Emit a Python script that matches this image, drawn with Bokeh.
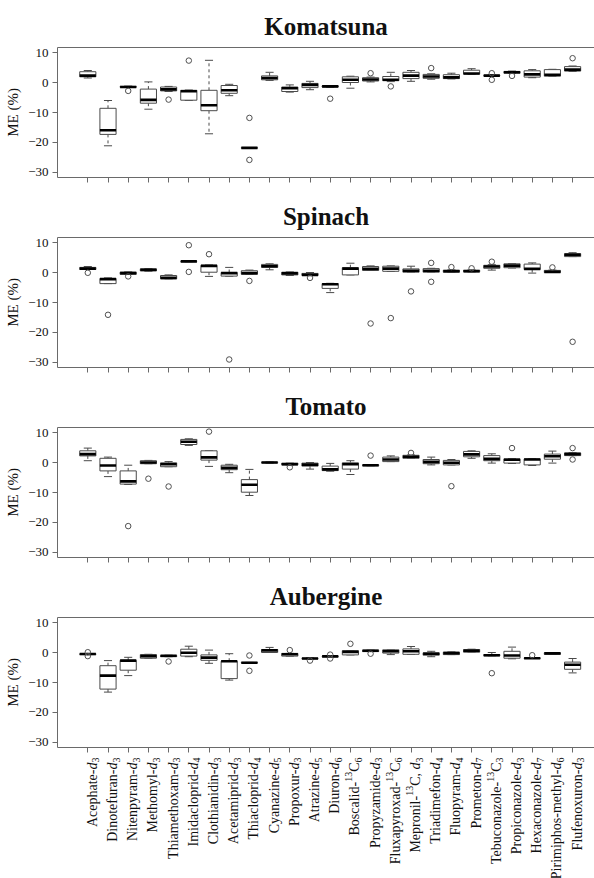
import math
from bokeh.plotting import figure
from bokeh.models import Range1d, FixedTicker, LinearAxis
from bokeh.layouts import column
from bokeh.core.properties import value
from bokeh.embed import file_html
from bokeh.resources import INLINE

# ---------------- data ----------------
panels = ["Komatsuna", "Spinach", "Tomato", "Aubergine"]

# x tick labels as (text, kind): n normal, i italic, b subscript, p superscript
x_labels = [
    [("Acephate-", "n"), ("d", "i"), ("3", "b")],
    [("Dinotefuran-", "n"), ("d", "i"), ("3", "b")],
    [("Nitenpyram-", "n"), ("d", "i"), ("3", "b")],
    [("Methomyl-", "n"), ("d", "i"), ("3", "b")],
    [("Thiamethoxam-", "n"), ("d", "i"), ("3", "b")],
    [("Imidacloprid-", "n"), ("d", "i"), ("4", "b")],
    [("Clothianidin-", "n"), ("d", "i"), ("3", "b")],
    [("Acetamiprid-", "n"), ("d", "i"), ("3", "b")],
    [("Thiacloprid-", "n"), ("d", "i"), ("4", "b")],
    [("Cyanazine-", "n"), ("d", "i"), ("5", "b")],
    [("Propoxur-", "n"), ("d", "i"), ("3", "b")],
    [("Atrazine-", "n"), ("d", "i"), ("5", "b")],
    [("Diuron-", "n"), ("d", "i"), ("6", "b")],
    [("Boscalid-", "n"), ("13", "p"), ("C", "n"), ("6", "b")],
    [("Propyzamide-", "n"), ("d", "i"), ("3", "b")],
    [("Fluxapyroxad-", "n"), ("13", "p"), ("C", "n"), ("6", "b")],
    [("Mepronil-", "n"), ("13", "p"), ("C, ", "n"), ("d", "i"), ("3", "b")],
    [("Triadimefon-", "n"), ("d", "i"), ("4", "b")],
    [("Fluopyram-", "n"), ("d", "i"), ("4", "b")],
    [("Prometon-", "n"), ("d", "i"), ("7", "b")],
    [("Tebuconazole-", "n"), ("13", "p"), ("C", "n"), ("3", "b")],
    [("Propiconazole-", "n"), ("d", "i"), ("3", "b")],
    [("Hexaconazole-", "n"), ("d", "i"), ("7", "b")],
    [("Pirimiphos-methyl-", "n"), ("d", "i"), ("6", "b")],
    [("Flufenoxuron-", "n"), ("d", "i"), ("3", "b")],
]

y_ticks = [-30, -20, -10, 0, 10]

kom_low = [1.5, -21.1, -1.6, -8.9, -3.0, -6.0, -17.1, -4.4, -21.9, 0.7, -3.2, -2.4, -1.6, -1.9, 0.2, 0.3, 0.4, 1.1, 1.2, 2.7, 2.1, 3.0, 1.6, 2.0, 3.7]
kom_q1 = [1.9, -17.3, -1.6, -6.9, -2.8, -5.9, -9.4, -3.6, -21.9, 0.9, -3.0, -1.7, -1.5, 0.0, 0.5, 0.6, 1.3, 1.4, 1.3, 2.8, 2.2, 3.1, 1.8, 2.1, 3.8]
kom_med = [2.3, -15.9, -1.5, -5.8, -2.3, -2.9, -7.6, -2.6, -21.8, 1.5, -1.9, -0.8, -1.3, 0.9, 1.0, 0.9, 2.3, 2.0, 1.7, 3.0, 2.3, 3.4, 2.7, 2.6, 4.3]
kom_q3 = [3.6, -8.6, -1.3, -2.2, -1.5, -2.6, -2.6, -1.0, -21.7, 2.2, -1.5, -0.3, -1.1, 1.9, 1.6, 2.0, 3.4, 2.7, 2.6, 4.1, 2.4, 3.7, 3.9, 4.3, 5.3]
kom_high = [4.0, -6.0, -1.2, 0.2, -1.3, -2.5, 7.4, -0.6, -21.7, 3.4, -0.8, 0.4, -1.0, 2.1, 1.8, 3.4, 4.0, 2.9, 3.1, 4.6, 2.5, 3.8, 4.3, 4.4, 5.5]
kom_out = [[], [], [-2.8], [], [-5.7], [7.3], [], [], [-11.8, -25.8], [], [], [], [-5.4], [], [3.1], [-1.3], [], [4.8], [], [], [3.1, 0.9], [2.2], [], [], [8.1]]

sp_low = [1.0, -3.7, -0.6, 0.4, -2.1, 3.6, -1.3, -1.2, -0.6, 0.9, -1.0, -1.0, -6.7, -0.8, 0.7, 0.4, 0.1, 0.1, 0.1, 0.2, 0.8, 1.5, -0.2, 0.0, 5.3]
sp_q1 = [1.0, -3.7, -0.6, 0.5, -2.1, 3.6, 0.1, -1.2, -0.6, 1.7, -0.8, -1.0, -5.3, -0.8, 0.7, 0.4, 0.1, 0.1, 0.1, 0.2, 1.4, 1.6, 1.0, 0.0, 5.3]
sp_med = [1.3, -2.2, -0.2, 0.9, -1.8, 3.7, 2.2, -0.2, -0.2, 2.1, -0.3, -0.8, -3.9, 1.3, 1.2, 1.3, 0.6, 0.6, 0.4, 0.4, 2.0, 2.3, 1.2, 0.2, 5.9]
sp_q3 = [1.7, -2.0, 0.1, 1.2, -1.0, 3.7, 2.4, 0.0, 0.6, 2.7, 0.1, -0.3, -3.7, 1.6, 2.0, 2.1, 1.2, 1.3, 0.8, 0.8, 2.4, 2.9, 2.8, 0.7, 6.3]
sp_high = [2.0, -1.8, 0.2, 1.3, -0.8, 3.8, 2.5, 1.7, 0.8, 2.9, 0.2, 0.0, -3.6, 3.1, 2.2, 2.2, 2.1, 1.4, 0.9, 0.9, 2.6, 3.0, 3.2, 0.8, 6.6]
sp_out = [[-0.1], [-14.1], [-1.3], [], [], [9.1, 0.2], [6.1], [-29.0], [-2.8], [], [], [-1.8], [], [], [-17.0], [-15.2], [-6.3], [3.2, -3.1], [1.8], [1.4], [3.6], [], [], [1.7], [-23.1]]

to_low = [0.6, -4.7, -7.3, -0.4, -1.4, 5.7, -1.3, -3.4, -11.0, -0.2, -0.8, -2.2, -2.9, -4.0, -1.1, 0.3, 1.4, -0.8, -0.8, 1.4, -0.2, -0.3, -1.0, -0.2, 2.3]
to_q1 = [2.2, -2.8, -7.2, -0.4, -1.4, 6.0, 0.8, -2.4, -9.9, -0.1, -0.8, -1.2, -2.7, -2.2, -1.1, 0.3, 1.4, -0.4, -0.8, 1.9, 0.6, -0.2, -0.8, 1.1, 2.3]
to_med = [2.8, -1.0, -6.3, 0.0, -0.6, 6.9, 1.7, -1.8, -7.4, 0.0, -0.6, -0.7, -2.3, -0.6, -0.9, 1.0, 1.9, 0.2, -0.1, 2.7, 1.2, 0.9, 1.0, 2.1, 2.8]
to_q3 = [3.9, 1.4, -2.8, 0.6, -0.1, 7.7, 3.9, -0.9, -5.7, 0.1, -0.2, -0.2, -1.2, -0.1, -0.8, 1.8, 2.4, 1.0, 0.7, 3.7, 2.3, 1.2, 1.2, 2.8, 3.2]
to_high = [4.8, 1.8, -0.9, 0.7, 0.3, 7.9, 3.9, -0.6, -2.3, 0.2, -0.2, 0.0, -0.3, 0.6, -0.7, 2.2, 2.5, 1.8, 1.0, 3.9, 2.9, 1.3, 1.3, 3.8, 3.3]
to_out = [[], [], [-21.2], [-5.4], [-8.0], [], [10.3], [], [], [], [-1.6], [], [], [], [2.3], [], [3.2], [], [-7.9], [], [], [4.8], [], [], [4.8, 1.0]]

au_low = [-0.7, -13.2, -7.7, -1.9, -1.4, -1.4, -3.6, -9.2, -3.5, 0.0, -1.2, -2.1, -1.4, -0.8, 0.3, -0.7, -0.6, -1.4, -0.7, 0.1, -1.1, -2.1, -2.0, -0.6, -6.8]
au_q1 = [-0.7, -12.2, -5.9, -1.9, -1.4, -1.2, -2.6, -8.7, -3.5, 0.0, -1.2, -2.1, -1.4, -0.8, 0.3, -0.2, -0.6, -0.9, -0.7, 0.1, -1.1, -1.9, -2.0, -0.6, -5.6]
au_med = [-0.5, -7.7, -2.7, -1.2, -1.1, -0.1, -1.7, -2.9, -3.4, 0.7, -0.6, -2.0, -1.3, 0.2, 0.6, 0.4, 0.4, -0.4, -0.2, 0.6, -0.9, -1.0, -1.9, -0.3, -4.1]
au_q3 = [-0.4, -4.4, -2.6, -0.7, -1.0, 1.1, -0.8, -2.9, -3.3, 1.0, -0.3, -1.9, -1.2, 0.6, 0.8, 0.9, 1.2, -0.1, 0.1, 1.0, -0.7, 0.4, -1.8, -0.1, -3.2]
au_high = [-0.4, -2.7, -1.6, -0.6, -0.9, 2.1, 0.8, -0.4, -3.3, 1.7, -0.3, -1.8, -1.2, 0.6, 0.8, 0.9, 2.0, 0.4, 0.2, 1.1, 0.0, 1.8, -1.8, 0.0, -2.0]
au_out = [[0.1, -1.2], [], [], [], [-3.0], [], [], [], [-1.0, -6.1], [], [0.8], [-2.7], [-0.7, -2.0], [2.9], [-0.4], [], [], [], [], [], [-6.9], [], [-0.9], [], []]

panel_data = [
    (kom_low, kom_q1, kom_med, kom_q3, kom_high, kom_out),
    (sp_low, sp_q1, sp_med, sp_q3, sp_high, sp_out),
    (to_low, to_q1, to_med, to_q3, to_high, to_out),
    (au_low, au_q1, au_med, au_q3, au_high, au_out),
]

# ---------------- style ----------------
FONT = "Liberation Serif"
FRAME = "#6a6a6a"
BOXC = "#4a4a4a"
TXT = "#111111"
LAB_SIZE = 14
SCRIPT_SIZE = 10
EM = {"0": .5, "1": .5, "2": .5, "3": .5, "4": .5, "5": .5, "6": .5, "7": .5,
      "8": .5, "9": .5, "C": .667, ",": .25, " ": .25, "d": .5}

FRAME_LEFT = 57
PX_PER_CAT = 20.2
PANEL_H = 190
TOP = 47
FRAME_H = 130
LAST_BOTTOM = 8
LABEL_H = 878 - 3 * PANEL_H - (TOP + FRAME_H + LAST_BOTTOM)

x_range = Range1d(-0.5, -0.5 + (594 - FRAME_LEFT) / PX_PER_CAT)
figs = []
n = len(x_labels)
xs = list(range(1, n + 1))

for k, name in enumerate(panels):
    last = (k == len(panels) - 1)
    bottom = LAST_BOTTOM if last else PANEL_H - TOP - FRAME_H
    h = TOP + FRAME_H + bottom
    p = figure(width=594, height=h, output_backend="svg", toolbar_location=None,
               x_range=x_range, y_range=Range1d(-31.67, 11.67),
               min_border_left=FRAME_LEFT, min_border_right=0,
               min_border_top=TOP, min_border_bottom=bottom,
               background_fill_color="white", border_fill_color="white")
    p.outline_line_color = None
    p.grid.visible = False

    p.title.text = name
    p.title.align = "center"
    p.title.text_font = FONT
    p.title.text_font_size = "25px"
    p.title.text_font_style = "bold"
    p.title.text_color = TXT
    p.title.standoff = 15

    # axes
    p.xaxis.ticker = FixedTicker(ticks=xs)
    p.xaxis.major_label_text_font_size = "1px"
    p.xaxis.major_label_text_alpha = 0
    p.xaxis.major_label_standoff = 0
    p.xaxis.major_tick_in = 0
    p.xaxis.major_tick_out = 5
    p.xaxis.minor_tick_line_color = None
    p.xaxis.axis_line_color = FRAME
    p.xaxis.major_tick_line_color = FRAME

    p.yaxis.ticker = FixedTicker(ticks=y_ticks)
    p.yaxis.major_label_text_font = FONT
    p.yaxis.major_label_text_font_size = "13px"
    p.yaxis.major_label_text_color = TXT
    p.yaxis.major_label_standoff = 4
    p.yaxis.major_tick_in = 0
    p.yaxis.major_tick_out = 5
    p.yaxis.minor_tick_line_color = None
    p.yaxis.axis_line_color = FRAME
    p.yaxis.major_tick_line_color = FRAME
    p.yaxis.axis_label = "ME (%)"
    p.yaxis.axis_label_text_font = FONT
    p.yaxis.axis_label_text_font_size = "15px"
    p.yaxis.axis_label_text_font_style = "normal"
    p.yaxis.axis_label_text_color = TXT
    p.yaxis.axis_label_standoff = 4

    top_ax = LinearAxis(major_tick_line_color=None, minor_tick_line_color=None,
                        major_label_text_font_size="1px", major_label_text_alpha=0,
                        major_label_standoff=0, axis_line_color=FRAME,
                        ticker=FixedTicker(ticks=[]))
    p.add_layout(top_ax, "above")

    low, q1, med, q3, high, outs = panel_data[k]

    # whiskers (dashed) and staples
    p.segment(x0=xs, y0=q3, x1=xs, y1=high, line_color=BOXC, line_width=1, line_dash="3 3")
    p.segment(x0=xs, y0=q1, x1=xs, y1=low, line_color=BOXC, line_width=1, line_dash="3 3")
    p.segment(x0=[x - 0.2 for x in xs], y0=high, x1=[x + 0.2 for x in xs], y1=high,
              line_color=BOXC, line_width=1)
    p.segment(x0=[x - 0.2 for x in xs], y0=low, x1=[x + 0.2 for x in xs], y1=low,
              line_color=BOXC, line_width=1)
    # boxes
    p.quad(left=[x - 0.4 for x in xs], right=[x + 0.4 for x in xs], bottom=q1, top=q3,
           fill_color="white", line_color=BOXC, line_width=1)
    # medians
    p.segment(x0=[x - 0.4 for x in xs], y0=med, x1=[x + 0.4 for x in xs], y1=med,
              line_color="black", line_width=2.6)
    # outliers
    ox = [xs[i] for i in range(n) for _ in outs[i]]
    oy = [v for i in range(n) for v in outs[i]]
    p.scatter(x=ox, y=oy, marker="circle", size=5.5, fill_color=None,
              line_color="#505050", line_width=1)
    figs.append(p)

# ---------------- category labels (rotated, with scripts) ----------------
lab = figure(width=594, height=LABEL_H, output_backend="svg", toolbar_location=None,
             x_range=x_range, y_range=Range1d(-LABEL_H, 0),
             x_axis_type=None, y_axis_type=None,
             min_border_left=FRAME_LEFT, min_border_right=0,
             min_border_top=0, min_border_bottom=0,
             background_fill_color="white", border_fill_color="white")
lab.outline_line_color = None
lab.grid.visible = False

d0 = 2
groups = {}
for i, pieces in enumerate(x_labels):
    cum = 0.0
    for text, kind in reversed(pieces):
        size = SCRIPT_SIZE if kind in ("b", "p") else LAB_SIZE
        g = groups.setdefault(kind, {"x": [], "y": [], "t": []})
        g["x"].append(xs[i])
        g["y"].append(-(d0 + cum))
        g["t"].append(text)
        cum += sum(EM.get(c, 0.5) for c in text) * size

for kind, g in groups.items():
    size = SCRIPT_SIZE if kind in ("b", "p") else LAB_SIZE
    xoff = 4.5 + (3.5 if kind == "b" else (-6.0 if kind == "p" else 0.0))
    lab.text(x=g["x"], y=g["y"], text=g["t"], angle=math.pi / 2,
             x_offset=xoff, text_font=value(FONT), text_font_size=value(f"{size}px"),
             text_font_style="italic" if kind == "i" else "normal",
             text_color=TXT, text_align="right", text_baseline="alphabetic")
figs.append(lab)

layout = column(*figs, spacing=0)
open("out.html", "w").write(file_html(layout, INLINE))
